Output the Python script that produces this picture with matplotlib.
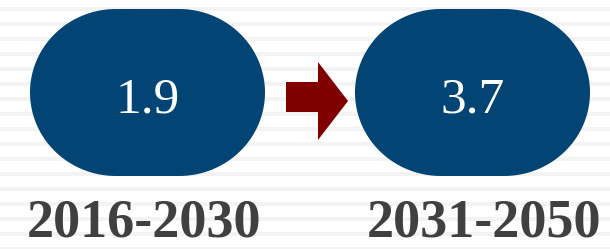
import numpy as np
import matplotlib
matplotlib.use("Agg")
import matplotlib.pyplot as plt
from matplotlib.path import Path
from matplotlib.patches import PathPatch, Polygon

# Data
values = [1.9, 3.7]
periods = ["2016-2030", "2031-2050"]

# Layout (pixel coordinates)
W, H = 610, 249
pill_left = [30, 355]
pill_right = [265, 590]
pill_top, pill_bottom = 9, 176
label_centers = [144, 484]
pill_color = "#024474"
arrow_color = "#800000"
label_color = "#404040"

fig = plt.figure(figsize=(W / 100, H / 100), dpi=100)
ax = fig.add_axes([0, 0, 1, 1])
ax.set_xlim(0, W)
ax.set_ylim(H, 0)
ax.axis("off")
fig.patch.set_facecolor("white")

# faint striped background
for y in np.arange(7, H, 15):
    ax.axhspan(y, y + 4, color="#f3f3f3", lw=0, zorder=0)


def pill(x0, x1, y0, y1, a):
    b = (y1 - y0) / 2.0
    cy = (y0 + y1) / 2.0
    t = np.linspace(-np.pi / 2, np.pi / 2, 80)
    right = np.column_stack([x1 - a + a * np.cos(t), cy + b * np.sin(t)])
    left = np.column_stack([x0 + a - a * np.cos(t), cy - b * np.sin(t)])
    pts = np.vstack([right, left, right[:1]])
    return Path(pts, closed=True)


for i, (v, lab) in enumerate(zip(values, periods)):
    x0, x1 = pill_left[i], pill_right[i]
    ax.add_patch(PathPatch(pill(x0, x1, pill_top, pill_bottom, 86),
                           facecolor=pill_color, edgecolor="none", zorder=2))
    cx = (x0 + x1) / 2.0
    ax.text(cx, 112, f"{v:.1f}", color="white", fontsize=37,
            family="Liberation Serif", ha="center", va="baseline", zorder=3)
    ax.text(label_centers[i], 248.5, lab, color=label_color, fontsize=39,
            fontweight="bold", family="Liberation Serif",
            ha="center", va="bottom", zorder=3)

# arrow between pills
arrow = Polygon([(286, 82), (318, 82), (318, 62), (348, 101),
                 (318, 140), (318, 112), (286, 112)],
                closed=True, facecolor=arrow_color, edgecolor="none", zorder=2)
ax.add_patch(arrow)

fig.savefig("out.png", dpi=100, facecolor="white")
